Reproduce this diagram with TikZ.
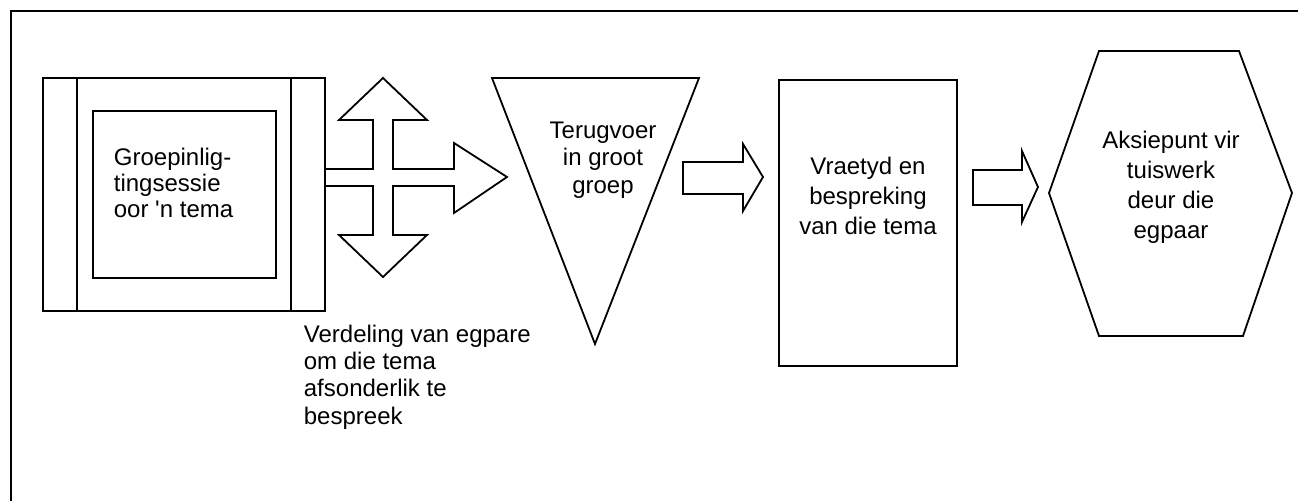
\documentclass[tikz,border=0pt]{standalone}
\usepackage{fontspec}
\setmainfont{Liberation Sans}

\begin{document}
\begin{tikzpicture}[x=0.5pt,y=-0.5pt,line width=0.9pt,line join=miter,
	lbl/.style={font=\fontsize{12}{13.7}\selectfont,align=center,inner sep=0pt}]
	\useasboundingbox (0,0) rectangle (1298,501);
	% frame
	\draw[line width=1.25pt] (11,501) -- (11,11) -- (1298,11);

	% session box
	\draw (43,78) rectangle (325,311);
	\draw (77,78) -- (77,311);
	\draw (291,78) -- (291,311);
	\draw (93,111) rectangle (276,278);
	\node[lbl,align=left,anchor=west,font=\fontsize{12}{12.8}\selectfont] (sessie) at (113,183) {Groepinlig-\\tingsessie\\oor \textquotesingle n tema};

	% cross arrow
	\draw (325,169) -- (373,169) -- (373,120) -- (339,120) -- (383,78) -- (427,120)
		-- (393,120) -- (393,169) -- (454,169) -- (454,143) -- (507,177) -- (454,213)
		-- (454,186) -- (393,186) -- (393,235) -- (427,235) -- (383,277) -- (339,235)
		-- (373,235) -- (373,186) -- (325,186);
	\node[lbl,align=left,anchor=west] (verdeling) at (303,377) {Verdeling van egpare\\om die tema\\afsonderlik te\\bespreek};

	% triangle
	\draw (492,78) -- (699,78) -- (595,344) -- cycle;
	\node[lbl] (terugvoer) at (603,160) {Terugvoer\\in groot\\groep};

	\draw (683,162) -- (743,162) -- (743,144) -- (763,177) -- (743,211) -- (743,194) -- (683,194) -- cycle;

	% question box
	\draw (779,80) rectangle (957,366);
	\node[lbl,font=\fontsize{12}{14.8}\selectfont] (vraetyd) at (868,196) {Vraetyd en\\bespreking\\van die tema};

	\draw (973,170) -- (1022,170) -- (1022,151) -- (1038,187) -- (1022,222) -- (1022,205) -- (973,205) -- cycle;

	% hexagon
	\draw (1049,193) -- (1099,51) -- (1239,51) -- (1292,193) -- (1243,336) -- (1099,336) -- cycle;
	\node[lbl,font=\fontsize{12}{15}\selectfont] (aksie) at (1171,187) {Aksiepunt vir\\tuiswerk\\deur die\\egpaar};
\end{tikzpicture}
\end{document}
